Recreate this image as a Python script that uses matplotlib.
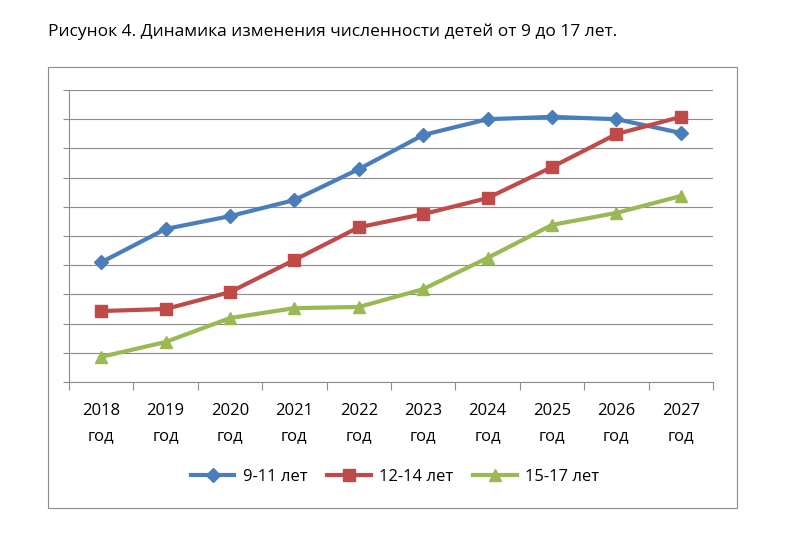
import matplotlib
matplotlib.use("Agg")
import matplotlib.pyplot as plt
from matplotlib.patches import Rectangle

plt.rcParams["font.family"] = "Open Sans"

years = ["2018", "2019", "2020", "2021", "2022", "2023", "2024", "2025", "2026", "2027"]
age_9_11 = [4.1, 5.24, 5.68, 6.23, 7.29, 8.46, 9.0, 9.08, 9.0, 8.53]
age_12_14 = [2.43, 2.5, 3.08, 4.18, 5.3, 5.75, 6.3, 7.36, 8.49, 9.08]
age_15_17 = [0.86, 1.37, 2.19, 2.53, 2.57, 3.18, 4.25, 5.38, 5.79, 6.37]

fig = plt.figure(figsize=(8.1, 5.45), dpi=100)
fig.text(48 / 810, 1 - 32 / 545, "Рисунок 4. Динамика изменения численности детей от 9 до 17 лет.",
         fontsize=12.5, va="center", ha="left")
fig.patches.append(Rectangle((48 / 810, 1 - 508 / 545), 689 / 810, 441 / 545,
                             transform=fig.transFigure, fill=False, edgecolor="#8c8c8c", lw=0.8))

ax = fig.add_axes([69 / 810, 1 - 382 / 545, 644 / 810, 292 / 545])
x = list(range(len(years)))
ax.plot(x, age_9_11, color="#4a7ebb", lw=3, marker="D", ms=7, label="9-11 лет")
ax.plot(x, age_12_14, color="#be4b48", lw=3, marker="s", ms=8, label="12-14 лет")
ax.plot(x, age_15_17, color="#98b954", lw=3, marker="^", ms=9, label="15-17 лет")

ax.set_xlim(-0.5, len(years) - 0.5)
ax.set_ylim(0, 10)
ax.set_yticks(range(0, 11))
ax.set_yticklabels([])
ax.grid(axis="y", color="#8c8c8c", lw=0.8)
ax.set_axisbelow(True)
ax.set_xticks([i - 0.5 for i in range(len(years) + 1)])
ax.set_xticklabels([])
ax.set_xticks(x, minor=True)
ax.set_xticklabels([f"{y}\nгод" for y in years], minor=True, fontsize=12, linespacing=1.75)
ax.tick_params(axis="x", which="minor", length=0, pad=15)
ax.tick_params(axis="x", which="major", length=6, color="#8c8c8c")
ax.tick_params(axis="y", length=4, color="#8c8c8c")
for s in ["top", "right"]:
    ax.spines[s].set_visible(False)
for s in ["left", "bottom"]:
    ax.spines[s].set_color("#8c8c8c")

fig.legend(loc="center", bbox_to_anchor=(395 / 810, 1 - 477 / 545), ncol=3, frameon=False,
           fontsize=12, handlelength=2.6, columnspacing=1.2, handletextpad=0.5)

fig.savefig("out.png", dpi=100)
